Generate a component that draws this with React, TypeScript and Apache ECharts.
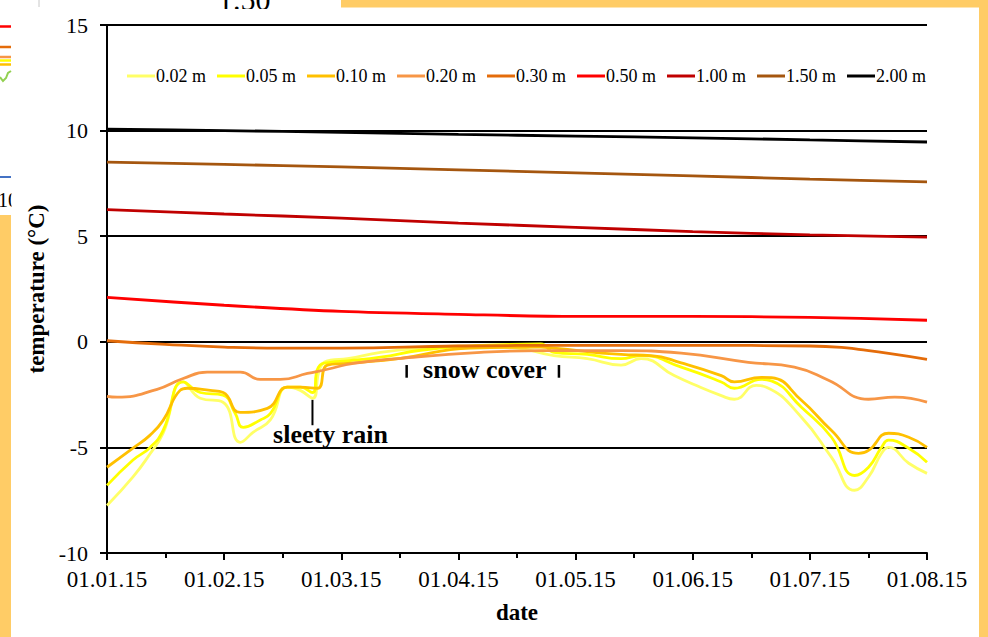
import React, { useEffect, useRef } from "react";
import * as echarts from "echarts";

// x values are month indices from 01.01.15 (0) to 01.08.15 (7)
const monthLabels = ["01.01.15", "01.02.15", "01.03.15", "01.04.15", "01.05.15", "01.06.15", "01.07.15", "01.08.15"];
const yTickMin = -10;
const yTickMax = 15;
const yTickStep = 5;

const depthNames = ["0.02 m", "0.05 m", "0.10 m", "0.20 m", "0.30 m", "0.50 m", "1.00 m", "1.50 m", "2.00 m"];
const depthColors = ["#FFFF66", "#FFFF00", "#FFC000", "#F79646", "#E46C0A", "#FF0000", "#C00000", "#A5560F", "#000000"];

const t002: [number, number][] = [
  [0, -7.75], [0.222, -6.4], [0.368, -5.3], [0.479, -4.33], [0.65, -1.9], [0.796, -2.67], [0.99, -2.86],
  [1.138, -4.76], [1.249, -4.28], [1.394, -3.7], [1.54, -2.15], [1.65, -2.3], [1.754, -2.67], [1.822, -1.2],
  [1.908, -0.87], [2.053, -0.8], [2.335, -0.5], [2.7, -0.3], [3.1, -0.2], [3.5, -0.3], [3.815, -0.65],
  [4.1, -0.8], [4.388, -1.1], [4.559, -0.8], [4.842, -1.6], [5.0, -2.0], [5.244, -2.55], [5.355, -2.72],
  [5.543, -2.06], [5.629, -2.15], [5.928, -3.57], [6.185, -5.47], [6.382, -7.03], [6.501, -6.4],
  [6.612, -5.28], [6.672, -5.0], [6.844, -5.75], [7.0, -6.23],
];
const t005: [number, number][] = [
  [0, -6.8], [0.222, -5.6], [0.368, -5.0], [0.479, -4.2], [0.65, -1.9], [0.796, -2.4], [0.99, -2.53],
  [1.095, -3.4], [1.163, -4.05], [1.309, -3.7], [1.394, -3.4], [1.54, -2.15], [1.65, -2.15], [1.754, -2.4],
  [1.805, -1.2], [1.908, -0.97], [2.053, -0.9], [2.335, -0.73], [2.677, -0.4], [3.105, -0.2], [3.704, -0.1],
  [3.815, -0.5], [4.1, -0.6], [4.388, -0.8], [4.559, -0.65], [4.902, -1.2], [5.244, -1.9], [5.355, -2.2],
  [5.586, -1.78], [5.672, -1.85], [5.928, -3.1], [6.185, -4.52], [6.382, -6.33], [6.501, -5.94],
  [6.612, -5.0], [6.672, -4.66], [6.844, -5.04], [7.0, -5.7],
];
const t010: [number, number][] = [
  [0, -5.94], [0.222, -5.04], [0.368, -4.42], [0.479, -3.72], [0.624, -2.3], [0.684, -2.2], [0.881, -2.3],
  [0.992, -2.4], [1.138, -3.34], [1.369, -3.15], [1.54, -2.15], [1.651, -2.15], [1.796, -2.2], [1.882, -1.1],
  [2.053, -1.02], [2.506, -0.78], [3.105, -0.3], [3.704, -0.25], [3.815, -0.3], [4.388, -0.6], [4.645, -0.65],
  [4.902, -1.0], [5.244, -1.6], [5.355, -1.9], [5.586, -1.68], [5.672, -1.7], [5.928, -2.77], [6.185, -4.2],
  [6.416, -5.28], [6.501, -5.14], [6.672, -4.33], [6.844, -4.52], [7.0, -5.0],
];
const t020: [number, number][] = [
  [0, -2.58], [0.086, -2.62], [0.428, -2.25], [0.65, -1.74], [0.855, -1.44], [1.138, -1.44], [1.309, -1.78],
  [1.48, -1.78], [1.711, -1.5], [1.882, -1.3], [2.104, -1.02], [2.506, -0.78], [3.191, -0.5], [3.704, -0.42],
  [4.388, -0.42], [4.902, -0.54], [5.475, -0.97], [5.868, -1.2], [6.159, -1.82], [6.501, -2.72],
  [6.724, -2.62], [7.0, -2.86],
];
const t030: [number, number][] = [
  [0, 0.05], [0.5, -0.12], [1.0, -0.25], [1.48, -0.3], [2.0, -0.3], [3.0, -0.2], [4.0, -0.17], [5.0, -0.17],
  [6.0, -0.2], [6.27, -0.26], [6.416, -0.36], [6.672, -0.55], [7.0, -0.83],
];
const t050: [number, number][] = [
  [0, 2.1], [1, 1.73], [2, 1.44], [3, 1.3], [4, 1.2], [5, 1.2], [6, 1.16], [7, 1.02],
];
const t100: [number, number][] = [
  [0, 6.26], [1, 6.05], [2, 5.86], [3, 5.62], [4, 5.42], [5, 5.22], [6, 5.06], [7, 4.96],
];
const t150: [number, number][] = [
  [0, 8.51], [1, 8.4], [2, 8.28], [3, 8.14], [4, 8.0], [5, 7.86], [6, 7.7], [7, 7.57],
];
const t200: [number, number][] = [
  [0, 10.07], [1, 10.0], [2, 9.92], [3, 9.82], [4, 9.74], [5, 9.66], [6, 9.56], [7, 9.46],
];

const seriesData = [t002, t005, t010, t020, t030, t050, t100, t150, t200];
const seriesSmooth = [0.5, 0.5, 0.5, 0.5, 0.5, 0.3, 0.3, 0.3, 0.3];

const SERIF = "Liberation Serif";
const BORDER = "#FFCC66";

export default function App() {
  const ref = useRef<HTMLDivElement | null>(null);

  useEffect(() => {
    if (!ref.current) return;
    const chart = echarts.init(ref.current, null, { renderer: "svg" });
    chart.setOption({
      animation: false,
      backgroundColor: "transparent",
      textStyle: { fontFamily: SERIF },
      grid: { left: 107, right: 61, top: 25, bottom: 84, containLabel: false },
      legend: {
        data: depthNames,
        icon: "rect",
        left: 122,
        top: 62,
        itemWidth: 28,
        itemHeight: 3,
        itemGap: 11,
        textStyle: { fontFamily: SERIF, fontSize: 18, color: "#000", padding: [0, 0, 0, -4] },
      },
      xAxis: {
        type: "value",
        position: "bottom",
        min: 0,
        max: monthLabels.length - 1,
        interval: 1,
        name: "date",
        nameLocation: "middle",
        nameGap: 48,
        nameTextStyle: { fontFamily: SERIF, fontSize: 23, fontWeight: "bold", color: "#000" },
        axisLine: { show: true, onZero: false, lineStyle: { color: "#000", width: 2 } },
        axisTick: { show: true, inside: false, length: 7, lineStyle: { color: "#000", width: 2 } },
        minorTick: { show: true, splitNumber: 2, length: 5, lineStyle: { color: "#000", width: 2 } },
        splitLine: { show: false },
        axisLabel: {
          margin: 15,
          fontFamily: SERIF,
          fontSize: 23,
          color: "#000",
          formatter: (v: number) => monthLabels[Math.round(v)] ?? "",
        },
      },
      yAxis: {
        type: "value",
        position: "left",
        min: yTickMin,
        max: yTickMax,
        interval: yTickStep,
        name: "temperature (°C)",
        nameLocation: "middle",
        nameGap: 52,
        nameTextStyle: { fontFamily: SERIF, fontSize: 23, fontWeight: "bold", color: "#000" },
        axisLine: { show: true, onZero: false, lineStyle: { color: "#000", width: 2 } },
        axisTick: { show: true, inside: false, length: 7, lineStyle: { color: "#000", width: 2 } },
        splitLine: { show: true, lineStyle: { color: "#000", width: 2 } },
        axisLabel: { margin: 19, fontFamily: SERIF, fontSize: 22, color: "#000" },
      },
      series: seriesData.map((d, i) => ({
        name: depthNames[i],
        type: "line",
        data: d,
        symbol: "none",
        smooth: seriesSmooth[i],
        lineStyle: { color: depthColors[i], width: 2.8 },
        itemStyle: { color: depthColors[i] },
        z: 2 + i,
      })),
    });

    const px = (x: number, y: number) => chart.convertToPixel({ gridIndex: 0 }, [x, y]) as number[];
    const snowL = px(2.558, -1.1);
    const snowL2 = px(2.558, -1.7);
    const snowR = px(3.858, -1.1);
    const snowR2 = px(3.858, -1.7);
    const snowText = px(3.225, -1.33);
    const sleetTop = px(1.754, -2.75);
    const sleetBot = px(1.754, -3.95);
    const sleetText = px(1.908, -4.4);

    const annoStyle = { fontFamily: SERIF, fontSize: 26, fontWeight: "bold", fill: "#000", align: "center", verticalAlign: "middle" };

    chart.setOption({
      graphic: [
        // surrounding screenshot fragments
        { type: "rect", shape: { x: 341, y: 0, width: 647, height: 7.5 }, style: { fill: BORDER }, silent: true },
        { type: "rect", shape: { x: 979, y: 0, width: 9, height: 637 }, style: { fill: BORDER }, silent: true },
        { type: "rect", shape: { x: 0, y: 215, width: 11, height: 422 }, style: { fill: BORDER }, silent: true },
        { type: "line", shape: { x1: 39, y1: 0, x2: 39, y2: 7 }, style: { stroke: "#C8C8C8", lineWidth: 1 }, silent: true },
        { type: "text", x: 218, y: 14, style: { text: "1.50", fontFamily: SERIF, fontSize: 30, fill: "#000", verticalAlign: "bottom" }, silent: true },
        { type: "rect", shape: { x: 0, y: 9, width: 340, height: 10 }, style: { fill: "#fff" }, silent: true },
        { type: "line", shape: { x1: 0, y1: 26.5, x2: 11, y2: 26.5 }, style: { stroke: "#FF0000", lineWidth: 2.5 }, silent: true },
        { type: "line", shape: { x1: 0, y1: 47, x2: 11, y2: 47 }, style: { stroke: "#E46C0A", lineWidth: 2.5 }, silent: true },
        { type: "line", shape: { x1: 0, y1: 57, x2: 11, y2: 57 }, style: { stroke: "#F79646", lineWidth: 2.5 }, silent: true },
        { type: "line", shape: { x1: 0, y1: 60.5, x2: 11, y2: 60.5 }, style: { stroke: "#FFFF00", lineWidth: 2.5 }, silent: true },
        { type: "line", shape: { x1: 0, y1: 64.5, x2: 11, y2: 64.5 }, style: { stroke: "#FFC000", lineWidth: 2.5 }, silent: true },
        { type: "polyline", shape: { points: [[0, 77], [3, 81], [6, 78], [8, 73], [11, 71]] }, style: { stroke: "#92D050", lineWidth: 2, fill: null }, silent: true },
        { type: "line", shape: { x1: 0, y1: 177, x2: 11, y2: 177 }, style: { stroke: "#4472C4", lineWidth: 2 }, silent: true },
        { type: "text", x: -2, y: 200, style: { text: "10", fontFamily: SERIF, fontSize: 20, fill: "#000", verticalAlign: "middle" }, silent: true },
        { type: "rect", shape: { x: 11.5, y: 186, width: 20, height: 28 }, style: { fill: "#fff" }, silent: true },
        // annotations
        { type: "line", shape: { x1: snowL[0], y1: snowL[1], x2: snowL2[0], y2: snowL2[1] }, style: { stroke: "#000", lineWidth: 2.5 }, z: 50 },
        { type: "line", shape: { x1: snowR[0], y1: snowR[1], x2: snowR2[0], y2: snowR2[1] }, style: { stroke: "#000", lineWidth: 2.5 }, z: 50 },
        { type: "text", x: snowText[0], y: snowText[1], style: { text: "snow cover", ...annoStyle }, z: 50 },
        { type: "line", shape: { x1: sleetTop[0], y1: sleetTop[1], x2: sleetBot[0], y2: sleetBot[1] }, style: { stroke: "#000", lineWidth: 2 }, z: 50 },
        { type: "text", x: sleetText[0], y: sleetText[1], style: { text: "sleety rain", ...annoStyle }, z: 50 },
      ],
    });

    return () => chart.dispose();
  }, []);

  return (
    <div
      ref={ref}
      style={{ position: "fixed", left: 0, top: 0, width: 988, height: 637, background: "#fff" }}
    />
  );
}
